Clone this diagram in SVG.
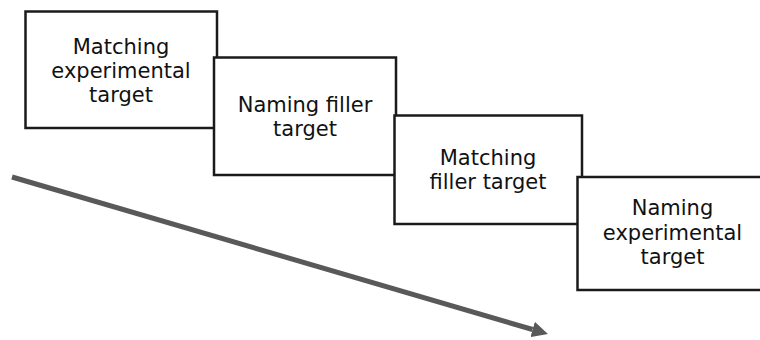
<svg xmlns="http://www.w3.org/2000/svg" width="760" height="340" viewBox="0 0 760 340">
  <style>
    .box { fill: #ffffff; stroke: #1a1a1a; stroke-width: 2.5; }
    .label { font-family: "DejaVu Sans", "Liberation Sans", sans-serif; font-size: 21px; fill: #111111; text-anchor: middle; }
    .timeline { stroke: #595959; stroke-width: 5; fill: none; }
  </style>
  <defs>
    <marker id="arrowhead" viewBox="0 -8 16 16" markerWidth="16" markerHeight="16" refX="0" refY="0" orient="auto" markerUnits="userSpaceOnUse">
      <path d="M0,-8 L16,0 L0,8 z" fill="#595959"/>
    </marker>
  </defs>

  <!-- time axis running down to the right -->
  <g id="connectors">
    <line class="timeline" x1="12" y1="177" x2="532.6" y2="329.5" marker-end="url(#arrowhead)"/>
  </g>

  <g id="node-matching-experimental">
    <rect class="box" x="25.5" y="11.5" width="191.5" height="116.5"/>
    <text class="label" x="121" y="54">Matching</text>
    <text class="label" x="121" y="78">experimental</text>
    <text class="label" x="121" y="102">target</text>
  </g>

  <g id="node-naming-filler">
    <rect class="box" x="214" y="57.5" width="182" height="117.5"/>
    <text class="label" x="305" y="112">Naming filler</text>
    <text class="label" x="305" y="136">target</text>
  </g>

  <g id="node-matching-filler">
    <rect class="box" x="394.5" y="115.5" width="187.5" height="108.5"/>
    <text class="label" x="488" y="165">Matching</text>
    <text class="label" x="488" y="189">filler target</text>
  </g>

  <g id="node-naming-experimental">
    <rect class="box" x="577.5" y="177" width="191" height="113"/>
    <text class="label" x="672.5" y="215">Naming</text>
    <text class="label" x="672.5" y="240">experimental</text>
    <text class="label" x="672.5" y="264">target</text>
  </g>
</svg>
